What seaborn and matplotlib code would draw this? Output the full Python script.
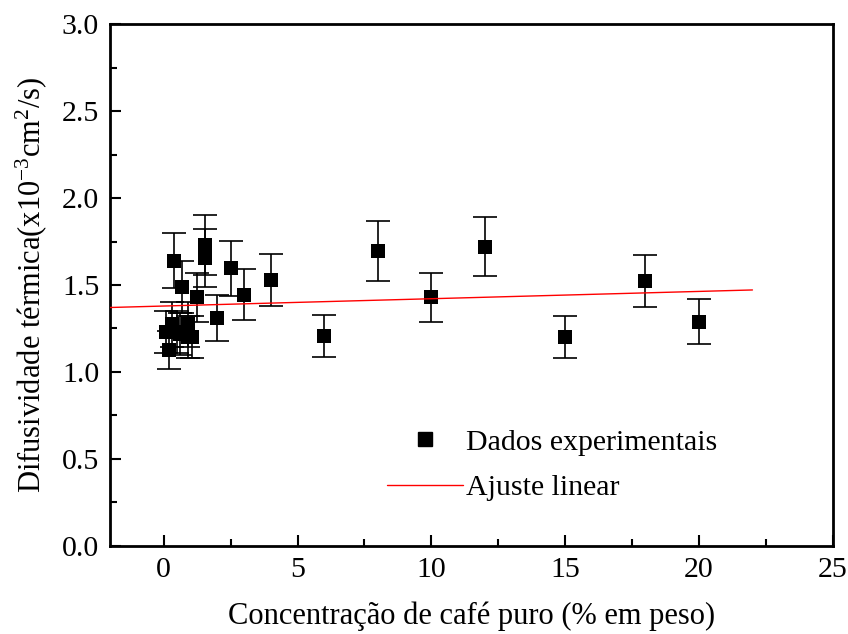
import numpy as np
import pandas as pd
import matplotlib
matplotlib.use("Agg")
import matplotlib.pyplot as plt
from matplotlib.ticker import MultipleLocator, FormatStrFormatter
from matplotlib.lines import Line2D
import seaborn as sns

# Measured thermal diffusivity vs. coffee concentration
concentracao = [0.1, 0.2, 0.3, 0.4, 0.5, 0.6, 0.7, 0.9, 0.9, 1.05, 1.25,
                1.55, 1.55, 2.0, 2.5, 3.0, 4.0, 6.0, 8.0, 10.0, 12.0,
                15.0, 18.0, 20.0]
difusividade = [1.23, 1.125, 1.275, 1.64, 1.23, 1.22, 1.49, 1.275, 1.20,
                1.20, 1.43, 1.73, 1.655, 1.31, 1.595, 1.445, 1.53, 1.205,
                1.695, 1.43, 1.72, 1.20, 1.525, 1.29]
erro = [0.12, 0.11, 0.13, 0.16, 0.12, 0.12, 0.15, 0.13, 0.12,
        0.12, 0.14, 0.17, 0.165, 0.13, 0.16, 0.145, 0.15, 0.12,
        0.17, 0.14, 0.17, 0.12, 0.15, 0.13]

# Linear fit parameters
ajuste_intercepto = 1.379
ajuste_inclinacao = 0.0042
ajuste_x = [-2.0, 22.0]

df = pd.DataFrame({"x": concentracao, "y": difusividade, "err": erro})
fit = pd.DataFrame({"x": ajuste_x,
                    "y": [ajuste_intercepto + ajuste_inclinacao * v for v in ajuste_x]})

sns.set_theme(style="ticks")
plt.rcParams["font.family"] = ["Liberation Serif", "DejaVu Serif"]
plt.rcParams["mathtext.fontset"] = "custom"
plt.rcParams["mathtext.rm"] = "Liberation Serif"
plt.rcParams["mathtext.it"] = "Liberation Serif:italic"
plt.rcParams["text.color"] = "black"
plt.rcParams["axes.labelcolor"] = "black"

fig = plt.figure(figsize=(8.48, 6.34), dpi=100)
ax = fig.add_axes([0.130, 0.139, 0.852, 0.823])

ax.errorbar(df["x"], df["y"], yerr=df["err"], fmt="none", ecolor="black",
            elinewidth=1.2, capsize=8.5, capthick=1.2, zorder=2)
sns.scatterplot(data=df, x="x", y="y", marker="s", s=110, color="black",
                edgecolor="black", linewidth=0, ax=ax, zorder=3, legend=False)
sns.lineplot(data=fit, x="x", y="y", color="red", linewidth=1.0, ax=ax,
             zorder=4, legend=False)

ax.set_xlim(-2, 25)
ax.set_ylim(0, 3.0)
ax.xaxis.set_major_locator(MultipleLocator(5))
ax.xaxis.set_minor_locator(MultipleLocator(2.5))
ax.yaxis.set_major_locator(MultipleLocator(0.5))
ax.yaxis.set_minor_locator(MultipleLocator(0.25))
ax.yaxis.set_major_formatter(FormatStrFormatter("%.1f"))
ax.tick_params(which="major", direction="in", length=8, width=1.5,
               labelsize=21.5, pad=8, colors="black", labelcolor="black")
ax.tick_params(which="minor", direction="in", length=5, width=1.5, colors="black")
for sp in ax.spines.values():
    sp.set_linewidth(2)
    sp.set_color("black")

ax.set_xlabel("Concentração de café puro (% em peso)", fontsize=22, labelpad=13)
ax.set_ylabel("Difusividade térmica(x10$^{-3}$cm$^2$/s)", fontsize=22, labelpad=9)

handles = [Line2D([], [], marker="s", linestyle="none", color="black", markersize=10),
           Line2D([], [], color="red", linewidth=1.0)]
ax.legend(handles, ["Dados experimentais", "Ajuste linear"], frameon=False,
          fontsize=21.5, loc="upper left", bbox_to_anchor=(0.439, 0.347),
          bbox_transform=fig.transFigure, handlelength=2.55, handletextpad=0.1,
          borderpad=0, labelspacing=0.62)

fig.savefig("out.png", dpi=100)
